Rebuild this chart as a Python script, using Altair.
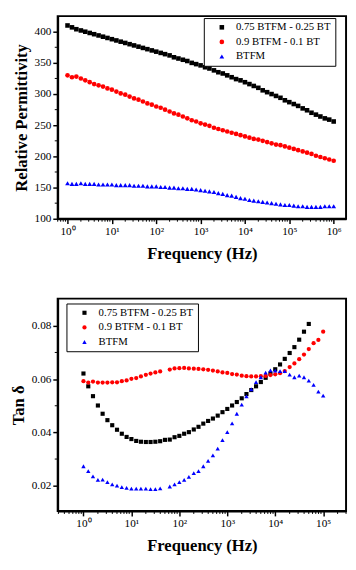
import altair as alt
import pandas as pd

# ---------------- data ----------------
SERIES = ["0.75 BTFM - 0.25 BT", "0.9 BTFM - 0.1 BT", "BTFM"]
COLORS = ["#000000", "#ff0000", "#0000ff"]
SHAPES = ["square", "circle", "triangle-up"]

# measurement points: 10 per decade
MANTISSA = [1.0, 1.26, 1.58, 2.0, 2.51, 3.16, 3.98, 5.01, 6.31, 7.94]
TOP_DECADES = [0, 1, 2, 3, 4, 5]
TOP_LAST = [1e6]
BOT_DECADES = [0, 1, 2, 3, 4]
BOT_LAST = [1e5]

# Relative permittivity (1 Hz ... 1 MHz)
PERM_075 = [410, 407, 404, 402, 400, 398, 396, 394, 392, 390,
            388, 386, 384, 382, 380, 378, 376, 374, 372, 370,
            368, 366, 364, 362, 359, 357, 355, 353, 350, 348,
            346, 343, 341, 338, 335, 333, 330, 327, 324, 322,
            319, 316, 313, 310, 306, 303, 300, 297, 294, 290,
            287, 284, 281, 277, 274, 270, 267, 264, 261, 259,
            256]
PERM_090 = [330, 327, 328, 325, 322, 319, 316, 314, 312, 309,
            307, 304, 301, 299, 296, 293, 291, 288, 285, 283,
            280, 278, 275, 272, 269, 267, 264, 261, 258, 256,
            253, 251, 249, 246, 244, 242, 240, 238, 236, 234,
            232, 230, 228, 227, 225, 223, 221, 219, 218, 216,
            214, 212, 210, 208, 206, 204, 201, 199, 197, 195,
            193]
PERM_BTFM = [157, 156, 156, 157, 156, 156, 156, 155, 155, 155,
             155, 154, 154, 154, 154, 153, 153, 153, 152, 152,
             152, 151, 151, 150, 150, 149, 149, 148, 148, 147,
             146, 145, 144, 143, 141, 140, 138, 137, 135, 133,
             132, 130, 129, 128, 127, 126, 125, 124, 123, 122,
             122, 121, 120, 120, 119, 119, 119, 119, 120, 120,
             120]

# Tan delta (1 Hz ... 100 kHz)
TAN_075 = [0.0621, 0.0573, 0.0536, 0.0501, 0.0470, 0.0446, 0.0427, 0.0410, 0.0395, 0.0383,
           0.0375, 0.0368, 0.0365, 0.0364, 0.0364, 0.0365, 0.0367, 0.0372, 0.0373, 0.0382,
           0.0387, 0.0395, 0.0401, 0.0411, 0.0421, 0.0433, 0.0443, 0.0452, 0.0463, 0.0476,
           0.0488, 0.0501, 0.0514, 0.0528, 0.0544, 0.0559, 0.0573, 0.0589, 0.0605, 0.0621,
           0.0637, 0.0655, 0.0676, 0.0698, 0.0720, 0.0748, 0.0778, 0.0807, None, None,
           None]
TAN_090 = [0.0592, 0.0587, 0.0591, 0.0587, 0.0587, 0.0587, 0.0588, 0.0588, 0.0592, 0.0595,
           0.0601, 0.0604, 0.0610, 0.0616, 0.0621, 0.0625, 0.0629, None, 0.0636, 0.0640,
           0.0641, 0.0642, 0.0640, 0.0639, 0.0638, 0.0637, 0.0635, 0.0632, 0.0629, 0.0625,
           0.0623, 0.0619, 0.0617, 0.0613, 0.0611, 0.0610, 0.0610, 0.0611, 0.0612, 0.0615,
           0.0618, 0.0622, 0.0630, 0.0645, 0.0659, 0.0675, 0.0692, 0.0713, 0.0735, 0.0747,
           0.0778]
TAN_BTFM = [0.0273, 0.0255, 0.0235, 0.0222, 0.0223, 0.0213, 0.0205, 0.0200, 0.0195, 0.0192,
            0.0189, 0.0189, 0.0189, 0.0189, 0.0187, 0.0187, 0.0190, None, 0.0197, 0.0205,
            0.0213, 0.0222, 0.0233, 0.0247, 0.0255, 0.0273, 0.0293, 0.0314, 0.0339, 0.0371,
            0.0401, 0.0434, 0.0470, 0.0504, 0.0535, 0.0562, 0.0589, 0.0607, 0.0624, 0.0633,
            0.0632, 0.0630, 0.0630, 0.0617, 0.0607, 0.0613, 0.0607, 0.0594, 0.0578, 0.0553,
            0.0538]

# axis ticks
TOP_X_MAJOR = [1, 10, 100, 1000, 10000, 100000, 1000000]
BOT_X_MAJOR = [1, 10, 100, 1000, 10000, 100000]
MINOR_MANT = [2, 3, 4, 5, 6, 7, 8, 9]
TOP_Y_MAJOR = [100, 150, 200, 250, 300, 350, 400]
TOP_Y_MINOR = [125, 175, 225, 275, 325, 375]
BOT_Y_MAJOR = [0.02, 0.04, 0.06, 0.08]
BOT_Y_MINOR = [0.03, 0.05, 0.07]

TOP_X_DOMAIN = [0.6, 1.9e6]
TOP_Y_DOMAIN = [100, 425]
BOT_X_DOMAIN = [0.29, 3.0e5]
BOT_Y_DOMAIN = [0.0105, 0.0902]


def freqs(decades, last):
    return [m * 10 ** d for d in decades for m in MANTISSA] + last


def long_df(f, arrays):
    rows = []
    for name, arr in zip(SERIES, arrays):
        for x, v in zip(f, arr):
            if v is not None:
                rows.append({"series": name, "freq": x, "val": v})
    return pd.DataFrame(rows)


def minor_list(dom):
    out = []
    for d in range(-1, 7):
        for m in MINOR_MANT:
            v = m * 10 ** d
            if dom[0] <= v <= dom[1]:
                out.append(v)
    return out


FONT = "Liberation Serif"
SUP = "['⁰','¹','²','³','⁴','⁵','⁶']"
LABEL_EXPR = "'10' + " + SUP + "[round(log(datum.value) / LN10)]"


def panel(df, xdom, ydom, xmajor, ymajor, yminor, ytitle, yfmt, w, h,
          lx, ly, sizes, ytitle_pad):
    xs = alt.Scale(type="log", domain=xdom, nice=False)
    ys = alt.Scale(domain=ydom, nice=False, zero=False)
    xax = alt.Axis(values=xmajor, labelExpr=LABEL_EXPR,
                   title="Frequency (Hz)", titlePadding=9,
                   tickSize=5, labelPadding=2)
    yax = alt.Axis(values=ymajor, format=yfmt, title=ytitle,
                   titlePadding=ytitle_pad, tickSize=5, labelPadding=2)
    leg = alt.Legend(orient="none", legendX=lx, legendY=ly, title=None,
                     strokeColor="black", fillColor="white", padding=4,
                     rowPadding=3, cornerRadius=0, symbolSize=22,
                     symbolOffset=9, labelOffset=9, labelFont=FONT,
                     labelFontSize=11, labelColor="black",
                     symbolStrokeWidth=0)
    pts = alt.Chart(df).mark_point(filled=True, opacity=1).encode(
        x=alt.X("freq:Q", scale=xs, axis=xax),
        y=alt.Y("val:Q", scale=ys, axis=yax),
        color=alt.Color("series:N", scale=alt.Scale(domain=SERIES, range=COLORS), legend=leg),
        shape=alt.Shape("series:N", scale=alt.Scale(domain=SERIES, range=SHAPES), legend=leg),
        size=alt.Size("series:N", scale=alt.Scale(domain=SERIES, range=sizes), legend=None),
    )
    xm = alt.Chart(pd.DataFrame({"freq": minor_list(xdom)})).mark_rule(
        color="black", strokeWidth=1).encode(
        x=alt.X("freq:Q", scale=xs, axis=xax),
        y=alt.value(h), y2=alt.value(h + 3))
    ym = alt.Chart(pd.DataFrame({"val": yminor})).mark_rule(
        color="black", strokeWidth=1).encode(
        y=alt.Y("val:Q", scale=ys, axis=yax),
        x=alt.value(0), x2=alt.value(-3))
    return alt.layer(pts, xm, ym).properties(width=w, height=h)


top_df = long_df(freqs(TOP_DECADES, TOP_LAST), [PERM_075, PERM_090, PERM_BTFM])
bot_df = long_df(freqs(BOT_DECADES, BOT_LAST), [TAN_075, TAN_090, TAN_BTFM])

top = panel(top_df, TOP_X_DOMAIN, TOP_Y_DOMAIN, TOP_X_MAJOR, TOP_Y_MAJOR,
            TOP_Y_MINOR, "Relative Permittivity", "d", 296, 208,
            150, 2, [22, 24, 26], 4)
bot = panel(bot_df, BOT_X_DOMAIN, BOT_Y_DOMAIN, BOT_X_MAJOR, BOT_Y_MAJOR,
            BOT_Y_MINOR, "Tan δ", ".2f", 296, 218,
            9, 5, [18, 20, 12], 4)

chart = alt.vconcat(top, bot, spacing=36).resolve_scale(
    color="independent", shape="independent", size="independent"
).resolve_legend(
    color="independent", shape="independent", size="independent"
).properties(
    padding=0
).configure_view(
    stroke="black", strokeWidth=2
).configure_axis(
    labelFont=FONT, titleFont=FONT, labelFontSize=11.5, titleFontSize=17,
    titleFontWeight="bold", titleColor="black", labelColor="black",
    domainColor="black", domainWidth=2, tickColor="black", tickWidth=1.5,
    grid=False
)

chart.save("out.html", embed_options={"renderer": "svg", "actions": False})
